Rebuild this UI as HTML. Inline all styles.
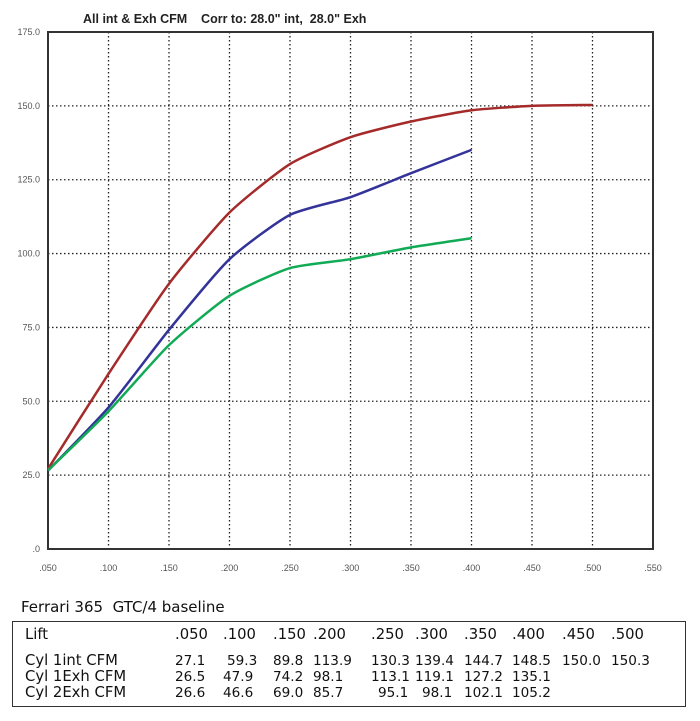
<!DOCTYPE html>
<html><head><meta charset="utf-8"><style>
body{margin:0;background:#fff;width:700px;height:721px;overflow:hidden;font-family:"Liberation Sans",sans-serif}
.t{position:absolute;font-family:"DejaVu Sans",sans-serif;font-size:14.8px;color:#111;white-space:pre}
.n{font-size:13.6px;top:auto}
</style></head><body>
<svg id="chart" width="700" height="590" style="position:absolute;left:0;top:0" xmlns="http://www.w3.org/2000/svg"></svg>
<div class="t" style="left:21px;top:598px;font-size:15px">Ferrari 365  GTC/4 baseline</div>
<div style="position:absolute;left:12px;top:621px;width:672px;height:84px;border:1.5px solid #333"></div>
<div id="tbl"></div>
<script>
const lifts=[0.05,0.1,0.15,0.2,0.25,0.3,0.35,0.4,0.45,0.5];
const liftLabels=[".050",".100",".150",".200",".250",".300",".350",".400",".450",".500"];
const intCfm=[27.1,59.3,89.8,113.9,130.3,139.4,144.7,148.5,150.0,150.3];
const exh1Cfm=[26.5,47.9,74.2,98.1,113.1,119.1,127.2,135.1];
const exh2Cfm=[26.6,46.6,69.0,85.7,95.1,98.1,102.1,105.2];
const xTicks=[0.05,0.1,0.15,0.2,0.25,0.3,0.35,0.4,0.45,0.5,0.55];
const yTicks=[0,25,50,75,100,125,150,175];
const L=48,R=653,T=32,B=549;
const x=v=>L+(v-0.05)/0.5*(R-L);
const y=v=>B-v/175*(B-T);
const svg=document.getElementById('chart');
const NS='http://www.w3.org/2000/svg';
function mk(tag,attrs){const e=document.createElementNS(NS,tag);for(const k in attrs)e.setAttribute(k,attrs[k]);svg.appendChild(e);return e;}
xTicks.forEach((t,i)=>{
 if(i>0&&i<xTicks.length-1){const g=mk('line',{x1:x(t),x2:x(t),y1:T,y2:B,stroke:'#222','stroke-width':1.3,'stroke-dasharray':'1.5,2.5'});
 
 }
 const lb=mk('text',{x:x(t),y:571,'text-anchor':'middle','font-size':9,fill:'#555','font-family':'Liberation Sans, sans-serif'});
 lb.textContent=(t.toFixed(3)).replace(/^0/,'');
 
 
});
yTicks.forEach((t,i)=>{
 if(i>0&&i<yTicks.length-1){const g=mk('line',{x1:L,x2:R,y1:y(t),y2:y(t),stroke:'#222','stroke-width':1.3,'stroke-dasharray':'1.5,2.5'});
 
 }
 const lb=mk('text',{x:40,y:y(t)+3,'text-anchor':'end','font-size':9,fill:'#555','font-family':'Liberation Sans, sans-serif'});
 lb.textContent=t===0?'.0':t.toFixed(1);
 
 
});
const fr=mk('rect',{x:L,y:T,width:R-L,height:B-T,fill:'none',stroke:'#333','stroke-width':2});


const ti=mk('text',{x:83,y:23,'font-size':12.5,'font-weight':'bold',fill:'#222','font-family':'Liberation Sans, sans-serif',style:'white-space:pre'});
ti.textContent='All int & Exh CFM    Corr to: 28.0" int,  28.0" Exh';


function path(vals){
 const p=vals.map((v,i)=>[x(lifts[i]),y(v)]);
 let d='M'+p[0][0]+','+p[0][1];
 const k=10;
 for(let i=0;i<p.length-1;i++){
  const p0=p[Math.max(0,i-1)],p1=p[i],p2=p[i+1],p3=p[Math.min(p.length-1,i+2)];
  const c1=[p1[0]+(p2[0]-p0[0])/k,p1[1]+(p2[1]-p0[1])/k];
  const c2=[p2[0]-(p3[0]-p1[0])/k,p2[1]-(p3[1]-p1[1])/k];
  d+=' C'+c1+' '+c2+' '+p2;
 }
 return d;
}
[[intCfm,'#a52a2a','series-cyl1-int'],[exh1Cfm,'#333399','series-cyl1-exh'],[exh2Cfm,'#11aa55','series-cyl2-exh']].forEach(s=>{
 const e=mk('path',{d:path(s[0]),fill:'none',stroke:s[1],'stroke-width':2.5});
 
 
});
const tbl=document.getElementById('tbl');
const colX=[175,223,273,313,371,415,464,512,562,611];
function cell(txt,l,t,name,cls){const d=document.createElement('div');d.className='t'+(cls?' '+cls:'');d.style.left=l+'px';d.style.top=t+'px';d.textContent=txt;
 
 
 tbl.appendChild(d);}
cell('Lift',25,626,'row-label');
liftLabels.forEach((s,i)=>cell(s,colX[i],626,'lift-header'));
const rows=[['Cyl 1int CFM',intCfm,652],['Cyl 1Exh CFM',exh1Cfm,668],['Cyl 2Exh CFM',exh2Cfm,684]];
rows.forEach(r=>{cell(r[0],25,r[2],'row-label');r[1].forEach((v,i)=>{
 let off=0;
 if(i===1&&v>55)off=4;
 if(i>=4&&v<100)off=7;
 cell(v.toFixed(1),colX[i]+off,r[2]+1,'cfm-value','n');});});
</script>
</body></html>
